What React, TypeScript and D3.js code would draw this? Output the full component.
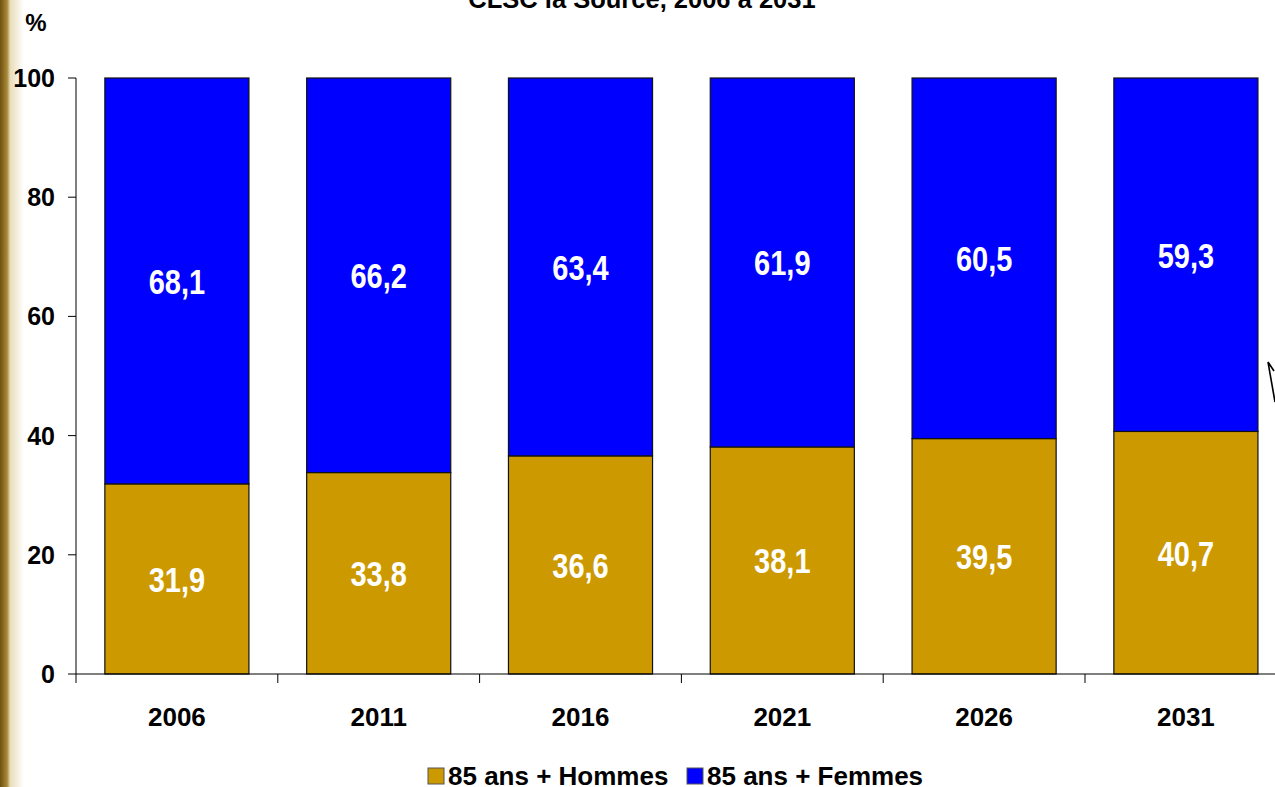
import React, { useEffect, useRef } from 'react';
import * as d3 from 'd3';

const years = ['2006', '2011', '2016', '2021', '2026', '2031'];
const hommes = [31.9, 33.8, 36.6, 38.1, 39.5, 40.7];
const femmes = [68.1, 66.2, 63.4, 61.9, 60.5, 59.3];
const yTicks = [0, 20, 40, 60, 80, 100];
const seriesNames = ['85 ans + Hommes', '85 ans + Femmes'];
const colors = ['#CC9900', '#0000FF'];

const fmt = (v: number) => v.toFixed(1).replace('.', ',');

const App: React.FC = () => {
	const svgRef = useRef<SVGSVGElement | null>(null);

	useEffect(() => {
		if (svgRef.current == null) return;

		const width = 1275;
		const height = 787;
		const font = '"Liberation Sans", Arial, sans-serif';

		const x = d3.scaleBand()
			.domain(years)
			.range([76, 76 + 6 * 201.8])
			.paddingInner(0.286)
			.paddingOuter(0.143);

		const y = d3.scaleLinear()
			.domain([0, 100])
			.range([674, 78]);

		const svg = d3.select(svgRef.current);
		svg.selectAll('*').remove();
		svg.attr('width', width).attr('height', height);

		// left edge texture
		const defs = svg.append('defs');
		const grad = defs.append('linearGradient').attr('id', 'edge');
		grad.append('stop').attr('offset', '0%').attr('stop-color', '#6e5010');
		grad.append('stop').attr('offset', '30%').attr('stop-color', '#a88a3a');
		grad.append('stop').attr('offset', '42%').attr('stop-color', '#e8dcb8');
		grad.append('stop').attr('offset', '100%').attr('stop-color', '#ffffff');

		svg.append('rect').attr('width', width).attr('height', height).attr('fill', '#fff');
		svg.append('rect').attr('width', 24).attr('height', height).attr('fill', 'url(#edge)');

		// title (cropped at top, as in the original)
		svg.append('text')
			.attr('x', 642)
			.attr('y', 8)
			.attr('text-anchor', 'middle')
			.attr('font-family', font)
			.attr('font-weight', 'bold')
			.attr('font-size', 25.5)
			.text('CLSC la Source, 2006 à 2031');

		svg.append('text')
			.attr('x', 36)
			.attr('y', 31)
			.attr('text-anchor', 'middle')
			.attr('font-family', font)
			.attr('font-weight', 'bold')
			.attr('font-size', 24)
			.text('%');

		// bars
		const stacked = years.map((yr, i) => ({ yr, h: hommes[i], f: femmes[i] }));
		const g = svg.append('g');
		g.selectAll('rect.h')
			.data(stacked)
			.enter().append('rect')
			.attr('class', 'h')
			.attr('x', d => x(d.yr)!)
			.attr('width', x.bandwidth())
			.attr('y', d => y(d.h))
			.attr('height', d => y(0) - y(d.h))
			.attr('fill', colors[0])
			.attr('stroke', '#111')
			.attr('stroke-width', 1.2);
		g.selectAll('rect.f')
			.data(stacked)
			.enter().append('rect')
			.attr('class', 'f')
			.attr('x', d => x(d.yr)!)
			.attr('width', x.bandwidth())
			.attr('y', d => y(d.h + d.f))
			.attr('height', d => y(d.h) - y(d.h + d.f))
			.attr('fill', colors[1])
			.attr('stroke', '#111')
			.attr('stroke-width', 1.2);

		// value labels (tall, narrow glyphs as in the original)
		const addLabels = (cls: string, val: (d: any) => number, mid: (d: any) => number) => {
			g.selectAll('text.' + cls)
				.data(stacked)
				.enter().append('text')
				.attr('class', cls)
				.attr('transform', d => `translate(${x(d.yr)! + x.bandwidth() / 2},${y(mid(d))}) scale(1,1.24)`)
				.attr('dy', '0.36em')
				.attr('text-anchor', 'middle')
				.attr('font-family', font)
				.attr('font-weight', 'bold')
				.attr('font-size', 29)
				.attr('fill', '#fff')
				.text(d => fmt(val(d)));
		};
		addLabels('lh', d => d.h, d => d.h / 2);
		addLabels('lf', d => d.f, d => d.h + d.f / 2);

		// y axis
		const yAxis = svg.append('g');
		yAxis.append('line')
			.attr('x1', 76).attr('x2', 76)
			.attr('y1', y(100)).attr('y2', y(0))
			.attr('stroke', '#000');
		yAxis.selectAll('line.t')
			.data(yTicks)
			.enter().append('line')
			.attr('x1', 68).attr('x2', 76)
			.attr('y1', d => y(d)).attr('y2', d => y(d))
			.attr('stroke', '#000');
		yAxis.selectAll('text')
			.data(yTicks)
			.enter().append('text')
			.attr('x', 55)
			.attr('y', d => y(d))
			.attr('dy', '0.36em')
			.attr('text-anchor', 'end')
			.attr('font-family', font)
			.attr('font-weight', 'bold')
			.attr('font-size', 25)
			.text(d => d);

		// x axis
		const [x0, x1] = x.range();
		const xAxis = svg.append('g');
		xAxis.append('line')
			.attr('x1', x0).attr('x2', x1)
			.attr('y1', y(0)).attr('y2', y(0))
			.attr('stroke', '#000');
		xAxis.selectAll('line.t')
			.data(d3.range(years.length + 1))
			.enter().append('line')
			.attr('x1', i => x0 + i * x.step()).attr('x2', i => x0 + i * x.step())
			.attr('y1', y(0)).attr('y2', y(0) + 9)
			.attr('stroke', '#000');
		xAxis.selectAll('text')
			.data(years)
			.enter().append('text')
			.attr('x', d => x(d)! + x.bandwidth() / 2)
			.attr('y', 717)
			.attr('dy', '0.36em')
			.attr('text-anchor', 'middle')
			.attr('font-family', font)
			.attr('font-weight', 'bold')
			.attr('font-size', 26)
			.text(d => d);

		// legend
		const legendItems = [
			{ name: seriesNames[0], color: colors[0], x: 428 },
			{ name: seriesNames[1], color: colors[1], x: 687 },
		];
		const lg = svg.append('g');
		lg.selectAll('rect')
			.data(legendItems)
			.enter().append('rect')
			.attr('x', d => d.x)
			.attr('y', 768)
			.attr('width', 16)
			.attr('height', 16)
			.attr('fill', d => d.color)
			.attr('stroke', '#555');
		lg.selectAll('text')
			.data(legendItems)
			.enter().append('text')
			.attr('x', d => d.x + 20)
			.attr('y', 785)
			.attr('font-family', font)
			.attr('font-weight', 'bold')
			.attr('font-size', 26)
			.text(d => d.name);

		// hand-drawn arrow mark on the right
		svg.append('path')
			.attr('d', 'M1275,402 L1268,362 L1274,371')
			.attr('fill', 'none')
			.attr('stroke', '#000')
			.attr('stroke-width', 1.6);
	}, []);

	return (
		<svg ref={svgRef} style={{ position: 'absolute', left: 0, top: 0 }}></svg>
	);
};

export default App;
